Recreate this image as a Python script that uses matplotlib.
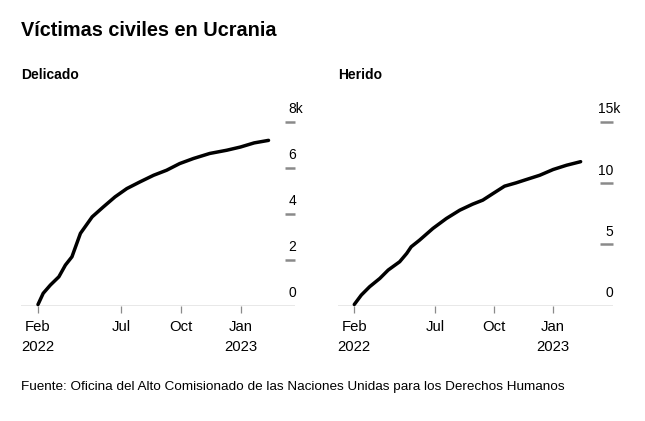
"""Víctimas civiles en Ucrania: two small cumulative line panels."""
import matplotlib
matplotlib.use("Agg")
import matplotlib.pyplot as plt
import numpy as np
import pandas as pd

plt.rcParams["font.family"] = ["Liberation Sans", "DejaVu Sans"]

# cumulative deaths (thousands)
killed_dates = [
    "2022-02-24", "2022-03-04", "2022-03-15", "2022-03-28", "2022-04-07",
    "2022-04-17", "2022-04-30", "2022-05-18", "2022-06-04", "2022-06-22",
    "2022-07-10", "2022-07-30", "2022-08-20", "2022-09-09", "2022-09-29",
    "2022-10-20", "2022-11-14", "2022-12-10", "2022-12-31", "2023-01-21",
    "2023-02-12",
]
killed = [0.05, 0.54, 0.90, 1.26, 1.77, 2.13, 3.15, 3.87, 4.30, 4.74,
          5.10, 5.39, 5.68, 5.90, 6.19, 6.41, 6.63, 6.77, 6.91, 7.09, 7.20]

# cumulative injured (thousands)
injured_dates = [
    "2022-02-24", "2022-03-07", "2022-03-20", "2022-04-05", "2022-04-18",
    "2022-05-06", "2022-05-17", "2022-05-24", "2022-06-06", "2022-06-27",
    "2022-07-18", "2022-08-08", "2022-08-28", "2022-09-13", "2022-09-29",
    "2022-10-17", "2022-11-04", "2022-11-20", "2022-12-11", "2023-01-01",
    "2023-01-22", "2023-02-13",
]
injured = [0.10, 0.87, 1.55, 2.23, 2.91, 3.59, 4.27, 4.81, 5.35, 6.31,
           7.12, 7.80, 8.29, 8.62, 9.16, 9.76, 10.03, 10.30, 10.65, 11.12,
           11.47, 11.76]

panels = [
    ("Delicado", killed_dates, killed, [0, 2, 4, 6, 8], 8,
     ("2022-01-29", "2023-03-25")),
    ("Herido", injured_dates, injured, [0, 5, 10, 15], 15,
     ("2022-01-30", "2023-04-04")),
]
tick_dates = ["2022-02-24", "2022-07-01", "2022-10-01", "2023-01-01"]
tick_labels = ["Feb\n2022", "Jul", "Oct", "Jan\n2023"]

W, H = 645, 421
fig = plt.figure(figsize=(W / 100, H / 100), dpi=100)
renderer = fig.canvas.get_renderer()

fig.text(21 / W, 1 - 30 / H, "Víctimas civiles en Ucrania",
         fontsize=14.3, fontweight="bold", va="center", ha="left")
fig.text(21 / W, 1 - 387 / H,
         "Fuente: Oficina del Alto Comisionado de las Naciones Unidas para los Derechos Humanos",
         fontsize=9.7, va="center", ha="left")

lefts = [21, 338.3]
width = 274.3
bottom, top = 305.7, 122
tick_len = [10.5, 12.5]
grey = "#8a8a8a"

for (name, dates, vals, yticks, ymax, xlim), x0, tl in zip(
        panels, lefts, tick_len):
    ax = fig.add_axes([x0 / W, 1 - bottom / H, width / W, (bottom - top) / H])
    ax.set_xlim(pd.to_datetime(xlim[0]), pd.to_datetime(xlim[1]))
    ax.set_ylim(0, ymax)
    for s in ax.spines.values():
        s.set_visible(False)
    ax.set_yticks([])

    ax.plot(pd.to_datetime(dates), np.array(vals), color="black",
            linewidth=2.5, solid_capstyle="round", clip_on=False, zorder=3)
    ax.axhline(0, color=grey, linewidth=1, zorder=1)

    ax.set_xticks(pd.to_datetime(tick_dates))
    ax.set_xticklabels(tick_labels, fontsize=10.7, linespacing=1.5)
    ax.tick_params(axis="x", length=5, width=0.9, color=grey, pad=5.5)

    # y gridline stubs at the right edge with labels above them
    frac = tl / width
    ytr = ax.get_yaxis_transform()
    for v in yticks:
        if v > 0:
            ax.plot([1 - frac, 1], [v, v], transform=ytr, color=grey,
                    linewidth=1.8, clip_on=False, solid_capstyle="butt")
        num = ax.annotate(str(v), xy=(1, v), xycoords=ytr, xytext=(0.5, 4),
                          textcoords="offset points", ha="right", va="bottom",
                          fontsize=10)
        if v == yticks[-1]:
            # keep the number right-aligned, let the "k" hang past the edge
            w_pt = num.get_window_extent(renderer).width * 72 / fig.dpi
            num.set_text(f"{v}k")
            num.set_horizontalalignment("left")
            num.set_position((0.5 - w_pt, 4))

    fig.text(x0 / W, 1 - 75 / H, name, fontsize=10, fontweight="bold",
             va="center", ha="left")

fig.savefig("out.png", dpi=100)
